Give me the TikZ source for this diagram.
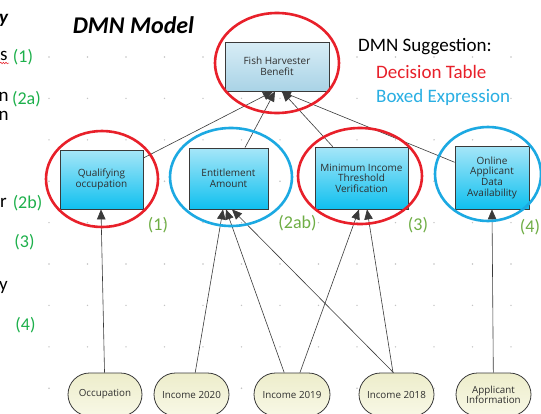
\documentclass[tikz,border=0pt]{standalone}
\usepackage{fontspec}
\setmainfont{Open Sans}
\newfontfamily\slidefont{Carlito}
\usetikzlibrary{arrows.meta,shadows,shapes.misc,decorations.pathmorphing}

\definecolor{ringred}{HTML}{E8202A}
\definecolor{ringblue}{HTML}{1CA9E2}
\definecolor{exprblue}{HTML}{2AAFE3}
\definecolor{tagsoft}{HTML}{6FAE45}
\definecolor{tagbright}{HTML}{1DB04B}
\definecolor{dotgrey}{HTML}{C4C4C4}
\definecolor{edgegrey}{HTML}{3A3A3A}
\definecolor{labelgrey}{HTML}{2E2E2E}
\definecolor{decTop}{HTML}{A6E6F8}
\definecolor{decBot}{HTML}{0FC0EF}
\definecolor{topTop}{HTML}{D8EDF6}
\definecolor{topBot}{HTML}{A9D3E6}
\definecolor{inTop}{HTML}{EDEDCB}
\definecolor{inBot}{HTML}{F8F8E6}

\tikzset{
  decbox/.style={draw=edgegrey, line width=0.8pt, top color=decTop, bottom color=decBot,
    drop shadow={shadow xshift=1.3pt, shadow yshift=-1.3pt, fill=black!80, opacity=1},
    align=center, text=labelgrey, inner sep=1pt,
    font=\fontsize{10}{10.6}\selectfont},
  goalbox/.style={decbox, top color=topTop, bottom color=topBot},
  inbox/.style={rounded rectangle, draw=edgegrey, line width=0.8pt,
    top color=inTop, bottom color=inBot, align=center, text=labelgrey,
    minimum height=43pt, inner sep=1pt, font=\fontsize{9.8}{10.4}\selectfont},
  arr/.style={draw=edgegrey, line width=0.6pt, -{Triangle[length=10pt,width=8.5pt]}},
  redring/.style={draw=ringred, line width=2.6pt},
  bluering/.style={draw=ringblue, line width=2.6pt},
  slide/.style={font=\slidefont\fontsize{19}{21}\selectfont, inner sep=0pt},
  tagsmall/.style={slide, text=tagsoft, font=\slidefont\fontsize{18}{20}\selectfont},
  tagside/.style={slide, text=tagbright, font=\slidefont\fontsize{18}{20}\selectfont},
  cutword/.style={slide, anchor=west, text=black}
}

\begin{document}
\begin{tikzpicture}[x=1pt,y=-1pt]
\useasboundingbox[fill=white] (0,0) rectangle (541,413);

% canvas grid
\foreach \i in {0,...,12}
  \foreach \j in {0,...,8}
    \fill[dotgrey] (49+38.5*\i, 57+41.4*\j) circle[radius=0.8pt];

% title and legend
\node[slide, font=\slidefont\bfseries\itshape\fontsize{24}{26}\selectfont] (title) at (133.5,25) {DMN Model};
\node[slide, anchor=west] (sugg) at (358,47) {DMN Suggestion:};
\node[slide, anchor=west, text=ringred] (dtab) at (376,72) {Decision Table};
\node[slide, anchor=west, text=exprblue] (bexp) at (376,97) {Boxed Expression};

% word endings of the left column
\node[cutword, font=\slidefont\bfseries\itshape\fontsize{19}{21}\selectfont] (w1) at (-1,20) {y};
\node[cutword] (w2) at (0,56) {s};
\draw[ringred, line width=0.5pt, decorate, decoration={snake, amplitude=0.8pt, segment length=2.6pt}] (0,63) -- (9,63);
\node[cutword] (w3) at (-1.5,97) {n};
\node[cutword] (w4) at (-1.5,116) {n};
\node[cutword] (w5) at (0,203) {r};
\node[cutword] (w6) at (-1,287) {y};

% left column tags
\node[tagside] (t1) at (23,57) {(1)};
\node[tagside] (t2a) at (26.5,99) {(2a)};
\node[tagside] (t2b) at (27.5,203) {(2b)};
\node[tagside] (t3) at (24.5,242) {(3)};
\node[tagside] (t4) at (25.5,325) {(4)};

% decisions
\node[goalbox, minimum width=104pt, minimum height=49pt] (fhb) at (277,66.5) {Fish Harvester\\Benefit};
\node[decbox, minimum width=83pt, minimum height=59pt] (qual) at (101.5,179.5) {Qualifying\\occupation};
\node[decbox, minimum width=79pt, minimum height=61pt] (ent) at (228.5,178.5) {Entitlement\\Amount};
\node[decbox, minimum width=93pt, minimum height=62pt] (mit) at (361.5,178) {Minimum Income\\Threshold\\Verification};
\node[decbox, minimum width=74pt, minimum height=63pt] (oada) at (492,177.5) {Online\\Applicant\\Data\\Availability};

% input data
\node[inbox, minimum width=76pt] (occ) at (105,394.5) {Occupation};
\node[inbox, minimum width=77pt] (in20) at (191.5,394.5) {Income 2020};
\node[inbox, minimum width=78pt] (in19) at (292,394.5) {Income 2019};
\node[inbox, minimum width=77pt] (in18) at (396.5,394.5) {Income 2018};
\node[inbox, minimum width=77pt, font=\fontsize{9.8}{10}\selectfont] (appi) at (493.5,394.5) {Applicant\\Information};

% information requirements
\draw[arr] (qual) -- ([xshift=-4pt]fhb.south);
\draw[arr] (ent) -- ([xshift=-2pt]fhb.south);
\draw[arr] (mit) -- ([xshift=5pt]fhb.south);
\draw[arr] (oada) -- ([xshift=4pt]fhb.south);

\draw[arr] (occ) -- ([xshift=-0.5pt]qual.south);
\draw[arr] (in20) -- ([xshift=-5.5pt]ent.south);
\draw[arr] (in19) -- ([xshift=-2.5pt]ent.south);
\draw[arr] ([xshift=-3pt]in18.north) -- ([xshift=3.5pt]ent.south);
\draw[arr] (in19) -- ([xshift=-2.5pt]mit.south);
\draw[arr] (in18) -- ([xshift=5.5pt]mit.south);
\draw[arr] (appi) -- (oada.south);

% suggestion rings
\draw[redring] (277,63) ellipse[x radius=62pt, y radius=50pt];
\draw[redring] (102,179) ellipse[x radius=56pt, y radius=48pt];
\draw[bluering] (231,177) ellipse[x radius=61pt, y radius=49pt];
\draw[redring] (360,176) ellipse[x radius=62pt, y radius=48pt];
\draw[bluering] (488,174) ellipse[x radius=53pt, y radius=47pt];

% diagram tags
\node[tagsmall] (d1) at (158,225) {(1)};
\node[tagsmall] (d2) at (297.5,223) {(2ab)};
\node[tagsmall] (d3) at (418,225) {(3)};
\node[tagsmall] (d4) at (530,227) {(4)};
\end{tikzpicture}
\end{document}
